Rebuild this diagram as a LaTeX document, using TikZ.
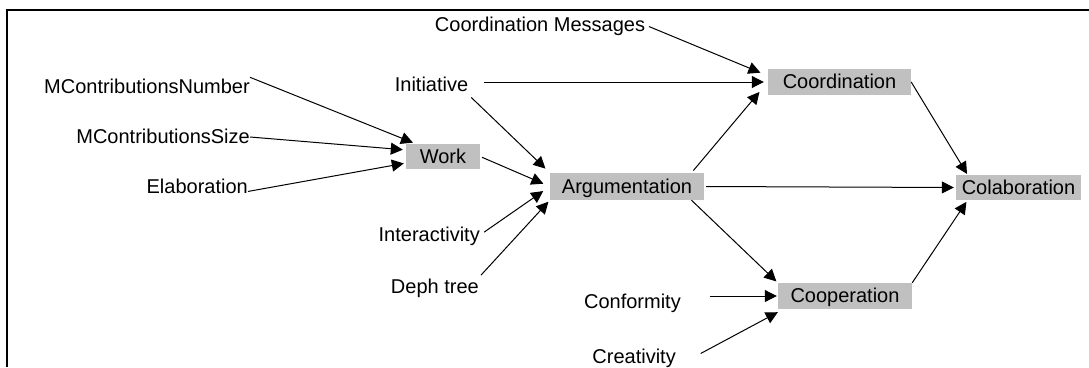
\documentclass[tikz,border=0pt]{standalone}
\usepackage{fontspec}
\setmainfont{Liberation Sans}
\usetikzlibrary{arrows.meta}
\definecolor{boxgray}{HTML}{C0C0C0}
\begin{document}
\begin{tikzpicture}[x=1pt, y=-1pt,
    every node/.style={font=\fontsize{20}{24}\selectfont, text height=16pt, text depth=3pt},
    lbl/.style={inner sep=0pt},
    box/.style={fill=boxgray, inner sep=0pt},
    arr/.style={-{Triangle[length=12pt,width=12pt]}, line width=1pt}]
    \useasboundingbox (0,0) rectangle (1089,367);
    \draw[line width=2pt] (7,367) -- (7,10) -- (1089,10);

    \node[lbl, anchor=east] (mcn) at (250,87) {MContributionsNumber};
    \node[lbl, anchor=east] (mcs) at (250,137) {MContributionsSize};
    \node[lbl, anchor=east] (elab) at (248,187) {Elaboration};
    \node[lbl] (msg) at (540,25) {Coordination Messages};
    \node[lbl] (init) at (431.5,85) {Initiative};
    \node[lbl, anchor=east] (inter) at (480,235) {Interactivity};
    \node[lbl, anchor=east] (deph) at (479,287) {Deph tree};
    \node[lbl, anchor=east] (conf) at (681,302) {Conformity};
    \node[lbl, anchor=east] (creat) at (676,357) {Creativity};

    \node[box, minimum width=74pt, minimum height=25pt] (work) at (443,156.5) {Work};
    \node[box, minimum width=154pt, minimum height=27pt] (arg) at (627,186.5) {Argumentation};
    \node[box, minimum width=143pt, minimum height=26pt] (coord) at (839.5,82) {Coordination};
    \node[box, minimum width=125pt, minimum height=25pt] (colab) at (1018.5,187.5) {Colaboration};
    \node[box, minimum width=134pt, minimum height=26pt] (coop) at (845,296) {Cooperation};

    \draw[arr, shorten >=3pt] (mcn.north east) -- (work.155);
    \draw[arr, shorten >=3pt] (mcs.east) -- (work.170);
    \draw[arr, shorten >=2pt] (elab.-5) -- (work.-170);
    \draw[arr, shorten <=4pt, shorten >=8pt] (msg.east) -- (coord.175);
    \draw[arr, shorten <=16pt, shorten >=4pt] (init.east |- coord.west) -- (coord.west);
    \draw[arr, shorten <=4pt, shorten >=6pt] (init.south east) -- (arg.north west);
    \draw[arr, shorten <=2pt, shorten >=7pt] (work.east) -- (arg.west);
    \draw[arr, shorten <=5pt, shorten >=8pt] (inter.east) -- (arg.west);
    \draw[arr, shorten <=3pt, shorten >=2pt] (deph.north east) -- (arg.south west);
    \draw[arr, shorten <=3pt, shorten >=13pt] (arg.12) -- (coord.west);
    \draw[arr, shorten <=2pt, shorten >=2pt] (arg.east) -- (colab.west);
    \draw[arr, shorten >=2pt] (arg.-12) -- (coop.north west);
    \draw[arr, shorten <=29pt, shorten >=1pt] (conf.east |- coop.west) -- (coop.west);
    \draw[arr, shorten <=28pt] (creat.south east) -- ([yshift=-3pt]coop.south west);
    \draw[arr, shorten >=1pt] (coord.east) -- (colab.166);
    \draw[arr, shorten >=2pt] (coop.north east) -- (colab.-166);
\end{tikzpicture}
\end{document}
